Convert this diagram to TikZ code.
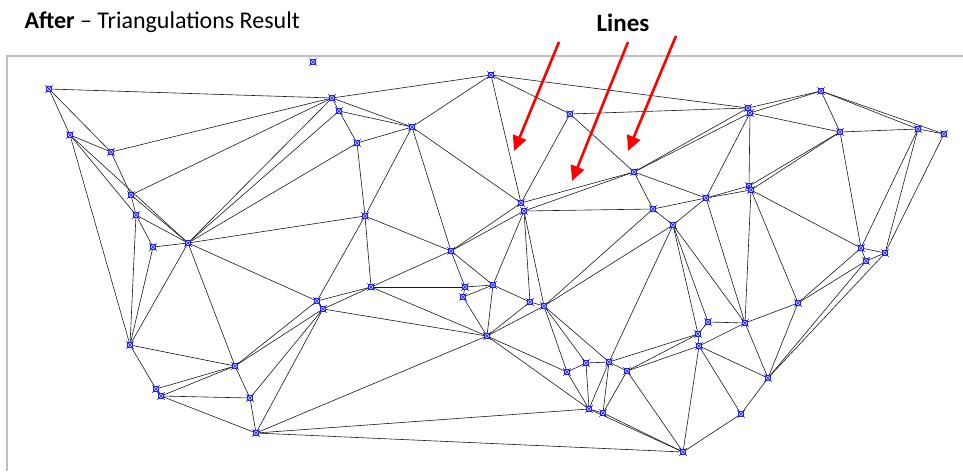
\documentclass[tikz,border=0pt]{standalone}
\usepackage{fontspec}
\setmainfont{Carlito}
\usepackage{tikz}
\usetikzlibrary{arrows.meta,positioning,shapes.misc}
\definecolor{boxgray}{HTML}{C0C0C0}
\definecolor{ptblue}{HTML}{2020FF}

\begin{document}
\begin{tikzpicture}[x=1pt, y=-1pt, pt/.style={draw=ptblue, fill=ptblue!25, line width=0.6pt, inner sep=0pt, minimum size=4.5pt}, ptx/.style={draw=ptblue, cross out, line width=0.5pt, inner sep=0pt, minimum size=7pt}, edge/.style={line width=0.6pt, black!90}, arr/.style={-{Triangle[length=15pt,width=14pt]}, line width=2.6pt, red}]
\useasboundingbox (0,0) rectangle (963,471);
\draw[boxgray, line width=1.6pt] (7,471)--(7,56)--(963,56);
\node[anchor=base west, font=\fontsize{24}{27}\selectfont] (title) at (21,28) {\textbf{After} -- Triangulations Result};
\node[anchor=base, font=\fontsize{25}{28}\selectfont\bfseries] (lbl) at (623,31) {Lines};
% points
\foreach \n/\x/\y in {1/49/89, 2/313/62, 3/70/135, 4/111/152, 5/131/195, 6/136/215, 7/153/247, 8/188/243, 9/332/98, 10/339/111, 11/357/143, 12/412/127, 13/491/75, 14/570/114, 15/365/216, 16/451/251, 17a/521/203, 17b/524/211, 18/634/172, 19/653/209, 20/673/225, 21/706/198, 22a/748/108, 22b/750/113, 23a/749/186, 23b/751/190, 24/821/91, 25/840/132, 26/918/129, 27/944/134, 28/861/248, 29/885/253, 30/866/261, 31/317/301, 32/323/309, 33/371/287, 34a/465/287, 34b/463/297, 35/493/285, 36/487/336, 37/530/302, 38/544/306, 39/130/345, 40a/156/389, 40b/161/396, 41/235/366, 42/250/398, 43/256/433, 44/567/372, 45/586/363, 46/609/362, 47/627/371, 48/589/409, 49/603/413, 50/683/452, 51/708/322, 52/699/346, 53/745/323, 54/798/303, 55/768/378, 56/741/414, 57/698/334}
  \node[pt] (v\n) at (\x,\y) {};
% triangulation
\foreach \a/\b in {1/3, 1/4, 1/9, 3/4, 3/6, 3/8, 3/39, 4/5, 4/9, 5/6, 5/8, 5/9, 6/7, 6/8, 6/39, 7/8, 7/39,
  8/9, 8/10, 8/11, 8/15, 8/31, 8/39, 8/41, 9/10, 9/12, 9/13, 10/11, 10/12, 11/12, 11/15,
  12/13, 12/15, 12/16, 12/17a, 13/14, 13/17a, 13/22a, 14/17a, 14/18, 14/22a,
  15/16, 15/31, 15/33, 16/17a, 16/17b, 16/33, 16/34a, 16/35, 17a/18, 17b/18, 17b/19, 17b/35, 17b/37, 17b/38,
  18/19, 18/21, 18/22a, 18/22b, 19/20, 19/21, 19/38, 20/21, 20/38, 20/46, 20/57, 20/51, 20/53,
  21/22b, 21/23a, 21/23b, 21/53, 22a/24, 22b/24, 22b/25, 22b/23a, 23a/25, 23b/25, 23b/28, 23b/53, 23b/54,
  24/25, 24/26, 24/27, 25/26, 25/28, 26/27, 26/28, 26/29, 27/29, 28/29, 28/30, 28/54, 29/30, 29/55, 30/54, 30/55,
  31/32, 31/33, 31/41, 32/33, 32/36, 32/41, 32/42, 32/43, 33/34a, 33/36, 34a/34b, 34a/35, 34b/35, 34b/36,
  35/36, 35/37, 36/37, 36/38, 36/43, 36/44, 36/48, 37/38, 38/44, 38/45, 38/46,
  39/41, 39/40a, 40a/41, 40a/40b, 40b/41, 40b/42, 40b/43, 41/42, 42/43, 43/48, 43/50,
  44/45, 44/48, 45/46, 45/48, 46/47, 46/48, 46/49, 46/57, 47/49, 47/50, 47/52, 47/57, 48/49, 48/50, 49/50,
  50/52, 50/56, 51/53, 51/57, 57/52, 52/53, 52/55, 52/56, 53/54, 53/55, 54/55, 55/56}
  \draw[edge] (v\a.center) -- (v\b.center);
% markers on top
\foreach \n in {1,2,...,16,18,19,...,21,24,25,...,33,35,36,...,39,41,42,...,57,17a,17b,22a,22b,23a,23b,34a,34b,40a,40b}
  {\node[pt] at (v\n) {};\node[ptx] at (v\n) {};}
% arrows
\coordinate (s1) at (559,42); \coordinate (e1) at (514,151);
\coordinate (s2) at (628,42); \coordinate (e2) at (572,181);
\coordinate (s3) at (676,36); \coordinate (e3) at (628,151);
\draw[arr] (s1)--(e1);\draw[arr] (s2)--(e2);\draw[arr] (s3)--(e3);
\end{tikzpicture}
\end{document}
